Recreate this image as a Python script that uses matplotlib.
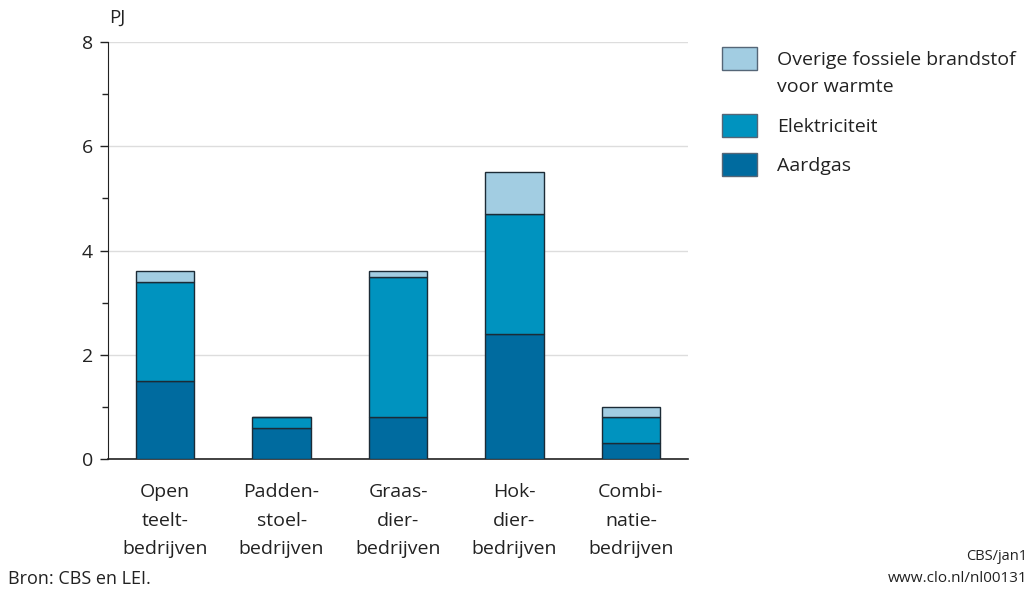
import numpy as np
import matplotlib.pyplot as plt
from matplotlib.patches import Rectangle

plt.rcParams['font.family'] = ['Open Sans', 'DejaVu Sans']

# data (PJ)
categories = ["Open\nteelt-\nbedrijven", "Padden-\nstoel-\nbedrijven", "Graas-\ndier-\nbedrijven",
              "Hok-\ndier-\nbedrijven", "Combi-\nnatie-\nbedrijven"]
aardgas = [1.5, 0.6, 0.8, 2.4, 0.3]
elektriciteit = [1.9, 0.2, 2.7, 2.3, 0.5]
overige = [0.2, 0.0, 0.1, 0.8, 0.2]

series = [aardgas, elektriciteit, overige]
labels = ["Aardgas", "Elektriciteit", "Overige fossiele brandstof\nvoor warmte"]
colors = ["#006b9f", "#0093bf", "#a2cde2"]
edge = "#1c2b36"
txt = "#222222"

W, H = 1029, 592
fig = plt.figure(figsize=(W / 100, H / 100), dpi=100)
ax = fig.add_axes([0.105, 0.2247, 0.5636, 0.7043])

x = np.arange(len(categories))
bottom = np.zeros(len(categories))
for vals, col in zip(series, colors):
    ax.bar(x, vals, 0.5, bottom=bottom, color=col, edgecolor=edge, linewidth=1.0, zorder=3)
    bottom += np.array(vals)

ax.set_xlim(-0.49, 4.49)
ax.set_ylim(0, 8)
ax.set_yticks([0, 2, 4, 6, 8])
ax.set_yticks([1, 3, 5, 7], minor=True)
ax.yaxis.grid(True, color="#dddddd", linewidth=1, zorder=0)
ax.set_xticks(x)
ax.set_xticklabels(categories, fontsize=14, linespacing=1.78, color=txt)
ax.tick_params(axis='x', length=0, pad=17)
ax.tick_params(axis='y', which='major', length=6, width=1, labelsize=14, colors=txt, pad=5)
ax.tick_params(axis='y', which='minor', length=4, width=1, color=txt)
for s in ["top", "right"]:
    ax.spines[s].set_visible(False)
ax.spines["left"].set_color(txt)
ax.spines["bottom"].set_color(txt)
ax.spines["bottom"].set_linewidth(1.2)

fig.text(109 / W, 1 - 18 / H, "PJ", fontsize=13.5, va="center", ha="left", color=txt)

# legend, drawn by hand (top entry first)
leg_y = [47, 114, 153]
for lab, col, y0 in zip(labels[::-1], colors[::-1], leg_y):
    fig.patches.append(Rectangle((722 / W, 1 - (y0 + 23) / H), 35 / W, 23 / H,
                                 transform=fig.transFigure, facecolor=col,
                                 edgecolor="#556677", linewidth=1.0))
    for i, line in enumerate(lab.split("\n")):
        fig.text(777 / W, 1 - (y0 + 11 + 27 * i) / H, line, fontsize=14,
                 va="center_baseline", ha="left", color=txt)

fig.text(8 / W, 1 - 579 / H, "Bron: CBS en LEI.", fontsize=13, va="center", ha="left", color=txt)
fig.text(1027 / W, 1 - 557 / H, "CBS/jan1", fontsize=10.5, va="center", ha="right", color=txt)
fig.text(1027 / W, 1 - 579 / H, "www.clo.nl/nl00131", fontsize=11, va="center", ha="right", color=txt)

fig.savefig("out.png", dpi=100)
